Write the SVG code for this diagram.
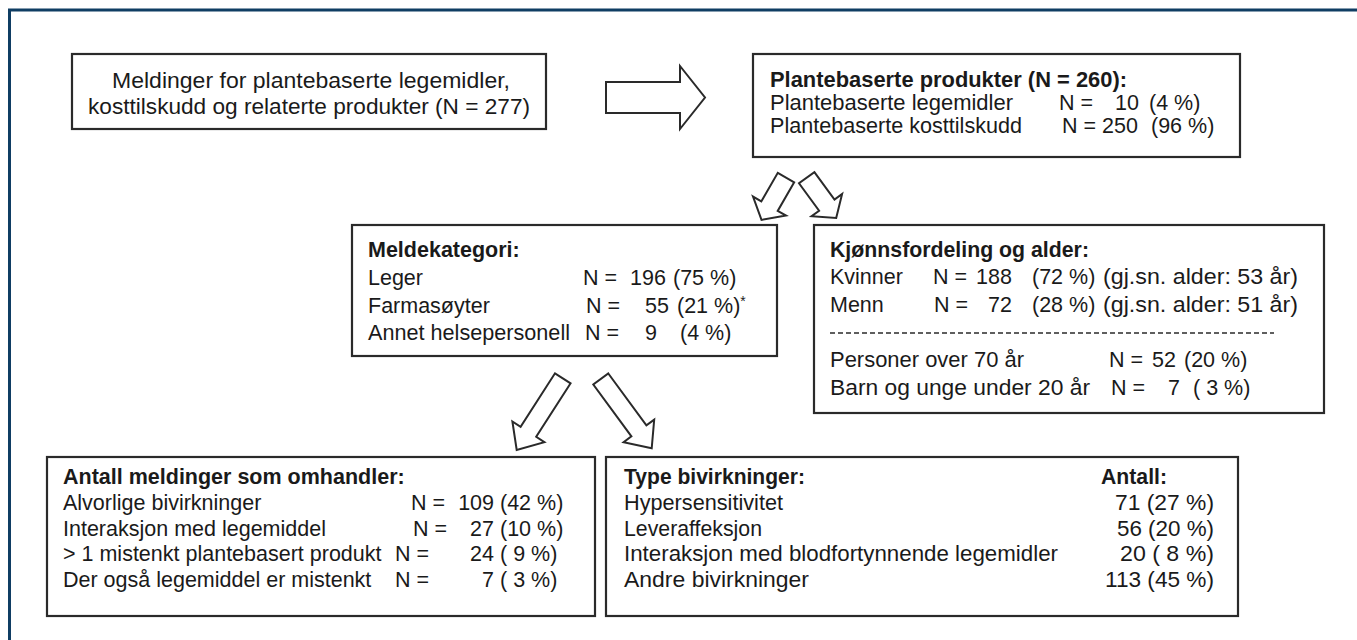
<svg xmlns="http://www.w3.org/2000/svg" width="1357" height="640" viewBox="0 0 1357 640">
<style>
.t{font-family:"Liberation Sans",Arial,sans-serif;font-size:21.5px;fill:#1a1a1a}
.b{font-weight:bold}
.box{fill:#fff;stroke:#2a2a2a;stroke-width:2.2}
.arr{fill:#fff;stroke:#2a2a2a;stroke-width:2;stroke-linejoin:miter}
.frame{fill:none;stroke:#0f3d63;stroke-width:3}
</style>
<rect width="1357" height="640" fill="#fff"/>
<path class="frame" d="M9.5,640 V10 H1357"/>
<g id="connectors">
<path class="arr" d="M606,82 H680 V66 L705,97.5 L680,129 V113 H606 Z"/>
<polygon class="arr" points="794.2,182.3 777.7,210.9 786,215.6 761.5,219.9 753,196.6 761.3,201.4 777.8,172.8"/>
<polygon class="arr" points="814.4,172.1 834.5,199.5 842.1,193.9 836.2,218 811.5,216.3 819.1,210.7 799,183.3"/>
<polygon class="arr" points="570.6,383.3 536.2,436.8 544.4,442.1 516.7,450 512.4,421.5 520.6,426.8 555,373.3"/>
<polygon class="arr" points="608.3,373.5 646.4,425.4 654.2,419.7 651.7,448.3 623.6,442.2 631.4,436.4 593.3,384.5"/>
</g>
<g id="n-meldinger">
<rect class="box" x="72" y="54" width="474" height="75"/>
<text class="t" x="112" y="88" textLength="398" lengthAdjust="spacingAndGlyphs">Meldinger for plantebaserte legemidler,</text>
<text class="t" x="88" y="114" textLength="442" lengthAdjust="spacingAndGlyphs">kosttilskudd og relaterte produkter (N = 277)</text>
</g>
<g id="n-plantebaserte">
<rect class="box" x="753" y="54" width="487" height="103"/>
<text class="t b" x="770" y="87" textLength="357" lengthAdjust="spacingAndGlyphs">Plantebaserte produkter (N = 260):</text>
<text class="t" y="110"><tspan x="770" textLength="243" lengthAdjust="spacingAndGlyphs">Plantebaserte legemidler</tspan><tspan x="1059">N =</tspan><tspan x="1115">10</tspan><tspan x="1149">(4 %)</tspan></text>
<text class="t" y="133"><tspan x="770" textLength="252" lengthAdjust="spacingAndGlyphs">Plantebaserte kosttilskudd</tspan><tspan x="1062">N =</tspan><tspan x="1102">250</tspan><tspan x="1151">(96 %)</tspan></text>
</g>
<g id="n-meldekategori">
<rect class="box" x="352" y="225" width="425" height="131"/>
<text class="t b" x="368" y="257">Meldekategori:</text>
<text class="t" y="285"><tspan x="368">Leger</tspan><tspan x="583">N =</tspan><tspan x="630">196</tspan><tspan x="673">(75 %)</tspan></text>
<text class="t" y="313"><tspan x="368">Farmasøyter</tspan><tspan x="586">N =</tspan><tspan x="645">55</tspan><tspan x="677">(21 %)</tspan><tspan font-size="14" dy="-7">*</tspan></text>
<text class="t" y="340"><tspan x="368" textLength="202" lengthAdjust="spacingAndGlyphs">Annet helsepersonell</tspan><tspan x="585">N =</tspan><tspan x="645">9</tspan><tspan x="680">(4 %)</tspan></text>
</g>
<g id="n-kjonn">
<rect class="box" x="814" y="225" width="510" height="188"/>
<text class="t b" x="830" y="257" textLength="259" lengthAdjust="spacingAndGlyphs">Kjønnsfordeling og alder:</text>
<text class="t" y="284"><tspan x="830">Kvinner</tspan><tspan x="933">N =</tspan><tspan x="976">188</tspan><tspan x="1032">(72 %)</tspan><tspan x="1103" textLength="195" lengthAdjust="spacingAndGlyphs">(gj.sn. alder: 53 år)</tspan></text>
<text class="t" y="312"><tspan x="830">Menn</tspan><tspan x="934">N =</tspan><tspan x="988">72</tspan><tspan x="1032">(28 %)</tspan><tspan x="1103" textLength="195" lengthAdjust="spacingAndGlyphs">(gj.sn. alder: 51 år)</tspan></text>
<line x1="830" y1="333" x2="1274" y2="333" stroke="#2a2a2a" stroke-width="1.5" stroke-dasharray="5 3"/>
<text class="t" y="367"><tspan x="830" textLength="194" lengthAdjust="spacingAndGlyphs">Personer over 70 år</tspan><tspan x="1109">N =</tspan><tspan x="1152">52</tspan><tspan x="1184">(20 %)</tspan></text>
<text class="t" y="395"><tspan x="830" textLength="260" lengthAdjust="spacingAndGlyphs">Barn og unge under 20 år</tspan><tspan x="1111">N =</tspan><tspan x="1168">7</tspan><tspan x="1193">( 3 %)</tspan></text>
</g>
<g id="n-antall">
<rect class="box" x="47" y="457" width="548" height="159"/>
<text class="t b" x="63" y="484">Antall meldinger som omhandler:</text>
<text class="t" x="63" y="510">Alvorlige bivirkninger</text>
<text class="t" x="411" y="510">N =</text>
<text class="t" x="494" y="510" text-anchor="end">109</text>
<text class="t" x="500" y="510">(42 %)</text>
<text class="t" x="63" y="536">Interaksjon med legemiddel</text>
<text class="t" x="413" y="536">N =</text>
<text class="t" x="494" y="536" text-anchor="end">27</text>
<text class="t" x="500" y="536">(10 %)</text>
<text class="t" x="63" y="561">&gt; 1 mistenkt plantebasert produkt</text>
<text class="t" x="395" y="561">N =</text>
<text class="t" x="494" y="561" text-anchor="end">24</text>
<text class="t" x="500" y="561">( 9 %)</text>
<text class="t" x="63" y="587">Der også legemiddel er mistenkt</text>
<text class="t" x="395" y="587">N =</text>
<text class="t" x="494" y="587" text-anchor="end">7</text>
<text class="t" x="500" y="587">( 3 %)</text>
</g>
<g id="n-type">
<rect class="box" x="606" y="457" width="632" height="159"/>
<text class="t b" x="624" y="484" textLength="181" lengthAdjust="spacingAndGlyphs">Type bivirkninger:</text>
<text class="t b" x="1101" y="484" textLength="66" lengthAdjust="spacingAndGlyphs">Antall:</text>
<text class="t" x="624" y="510" textLength="159" lengthAdjust="spacingAndGlyphs">Hypersensitivitet</text>
<text class="t" x="1115" y="510" textLength="99" lengthAdjust="spacingAndGlyphs">71 (27 %)</text>
<text class="t" x="624" y="536" textLength="138" lengthAdjust="spacingAndGlyphs">Leveraffeksjon</text>
<text class="t" x="1117" y="536" textLength="97" lengthAdjust="spacingAndGlyphs">56 (20 %)</text>
<text class="t" x="624" y="561" textLength="434" lengthAdjust="spacingAndGlyphs">Interaksjon med blodfortynnende legemidler</text>
<text class="t" x="1120" y="561" textLength="94" lengthAdjust="spacingAndGlyphs">20 ( 8 %)</text>
<text class="t" x="624" y="587" textLength="185" lengthAdjust="spacingAndGlyphs">Andre bivirkninger</text>
<text class="t" x="1105" y="587" textLength="109" lengthAdjust="spacingAndGlyphs">113 (45 %)</text>
</g>
</svg>
